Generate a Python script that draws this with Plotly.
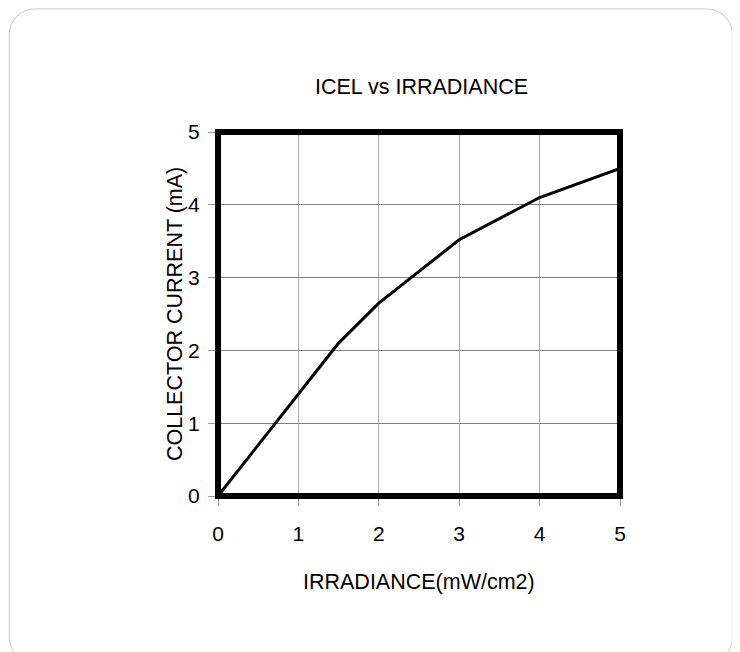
import plotly.graph_objects as go

# Data
irradiance = [0, 1.5, 2, 3, 4, 5]
collector_current = [0, 2.1, 2.65, 3.52, 4.1, 4.5]
x_ticks = [0, 1, 2, 3, 4, 5]
y_ticks = [0, 1, 2, 3, 4, 5]
title_text = "ICEL vs IRRADIANCE"
x_title = "IRRADIANCE(mW/cm2)"
y_title = "COLLECTOR CURRENT (mA)"

OFF = 8  # page body margin
W, H = 740 - OFF, 652 - OFF
# plot area in reference (window) pixel coordinates
PL, PR, PT, PB = 218, 620.5, 132, 496
L, R, T, B = PL - OFF, 740 - PR, PT - OFF, 652 - PB
pw = PR - PL
ph = PB - PT

def px(x):
    return (x - PL) / pw

def py(y):
    return (PB - y) / ph

FONT = "Liberation Sans, Arial, sans-serif"

fig = go.Figure()
fig.add_trace(go.Scatter(x=irradiance, y=collector_current, mode="lines",
                         line=dict(color="black", width=3), showlegend=False,
                         hoverinfo="skip"))

# rounded outer frame (decoration)
x0, x1, y0, y1, r = 9, 733, 8.8, 663, 26
k = 0.5523 * r
path = (f"M {px(x0+r)},{py(y0)} L {px(x1-r)},{py(y0)} "
        f"C {px(x1-r+k)},{py(y0)} {px(x1)},{py(y0+r-k)} {px(x1)},{py(y0+r)} "
        f"L {px(x1)},{py(y1-r)} "
        f"C {px(x1)},{py(y1-r+k)} {px(x1-r+k)},{py(y1)} {px(x1-r)},{py(y1)} "
        f"L {px(x0+r)},{py(y1)} "
        f"C {px(x0+r-k)},{py(y1)} {px(x0)},{py(y1-r+k)} {px(x0)},{py(y1-r)} "
        f"L {px(x0)},{py(y0+r)} "
        f"C {px(x0)},{py(y0+r-k)} {px(x0+r-k)},{py(y0)} {px(x0+r)},{py(y0)} Z")
fig.add_shape(type="path", path=path, xref="paper", yref="paper",
              line=dict(color="#d4d4d4", width=1.2), layer="below")

# thick plot border
fig.add_shape(type="rect", xref="paper", yref="paper", x0=0, x1=1, y0=0, y1=1,
              line=dict(color="black", width=6), layer="above")

fig.add_annotation(text=title_text, xref="paper", yref="paper",
                   x=px(422), y=py(87), showarrow=False,
                   font=dict(family=FONT, size=21.5, color="black"),
                   xanchor="center", yanchor="middle")
fig.add_annotation(text=x_title, xref="paper", yref="paper",
                   x=px(419), y=py(582), showarrow=False,
                   font=dict(family=FONT, size=21.5, color="black"),
                   xanchor="center", yanchor="middle")
fig.add_annotation(text=y_title, xref="paper", yref="paper",
                   x=px(175), y=py(314), showarrow=False, textangle=-90,
                   font=dict(family=FONT, size=21.5, color="black"),
                   xanchor="center", yanchor="middle")

fig.update_xaxes(range=[0, 5], tickvals=x_ticks, ticktext=[str(v) for v in x_ticks],
                 showgrid=True, gridcolor="#a8a8a8", gridwidth=1,
                 zeroline=False, showline=False,
                 ticks="outside", ticklen=9, tickcolor="#999999", tickwidth=1,
                 ticklabelstandoff=10,
                 tickfont=dict(family=FONT, size=21, color="black"))
fig.update_yaxes(range=[0, 5], tickvals=y_ticks, ticktext=[str(v) for v in y_ticks],
                 showgrid=True, gridcolor="#808080", gridwidth=1,
                 zeroline=False, showline=False,
                 ticks="outside", ticklen=9, tickcolor="#999999", tickwidth=1,
                 ticklabelstandoff=4,
                 tickfont=dict(family=FONT, size=21, color="black"))

fig.update_layout(width=W, height=H, margin=dict(l=L, r=R, t=T, b=B),
                  paper_bgcolor="white", plot_bgcolor="white")

fig.write_html("out.html")
